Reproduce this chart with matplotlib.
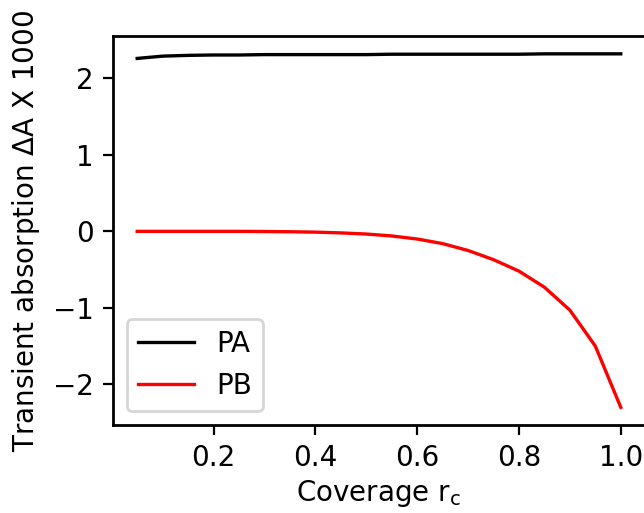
import numpy as np
import matplotlib
matplotlib.use("Agg")
import matplotlib.pyplot as plt

# ── Data ─────────────────────────────────────────────────────────────────────
coverage = [0.05, 0.10, 0.15, 0.20, 0.25, 0.30, 0.35, 0.40, 0.45, 0.50,
            0.55, 0.60, 0.65, 0.70, 0.75, 0.80, 0.85, 0.90, 0.95, 1.00]
pa = [2.26, 2.29, 2.30, 2.305, 2.305, 2.31, 2.31, 2.31, 2.31, 2.31,
      2.315, 2.315, 2.315, 2.315, 2.315, 2.315, 2.32, 2.32, 2.32, 2.32]
pb = [0.0, 0.0, 0.0, 0.0, 0.0, -0.002, -0.005, -0.01, -0.02, -0.035,
      -0.06, -0.10, -0.16, -0.25, -0.37, -0.52, -0.73, -1.03, -1.50, -2.30]

# ── Figure ───────────────────────────────────────────────────────────────────
plt.rcParams["axes.linewidth"] = 1.0
fig = plt.figure(figsize=(3.22, 2.565), dpi=200)
ax = fig.add_axes([0.1755, 0.1715, 0.826, 0.758])

ax.plot(coverage, pa, color="black", lw=1.2, label="PA")
ax.plot(coverage, pb, color="red", lw=1.2, label="PB")

ax.set_xlabel(r"Coverage r$_\mathrm{c}$", labelpad=2)
ax.set_ylabel(r"Transient absorption $\Delta$A X 1000")
ax.set_xticks([0.2, 0.4, 0.6, 0.8, 1.0])
ax.legend(loc="lower left")

fig.savefig("out.png", dpi=200)
